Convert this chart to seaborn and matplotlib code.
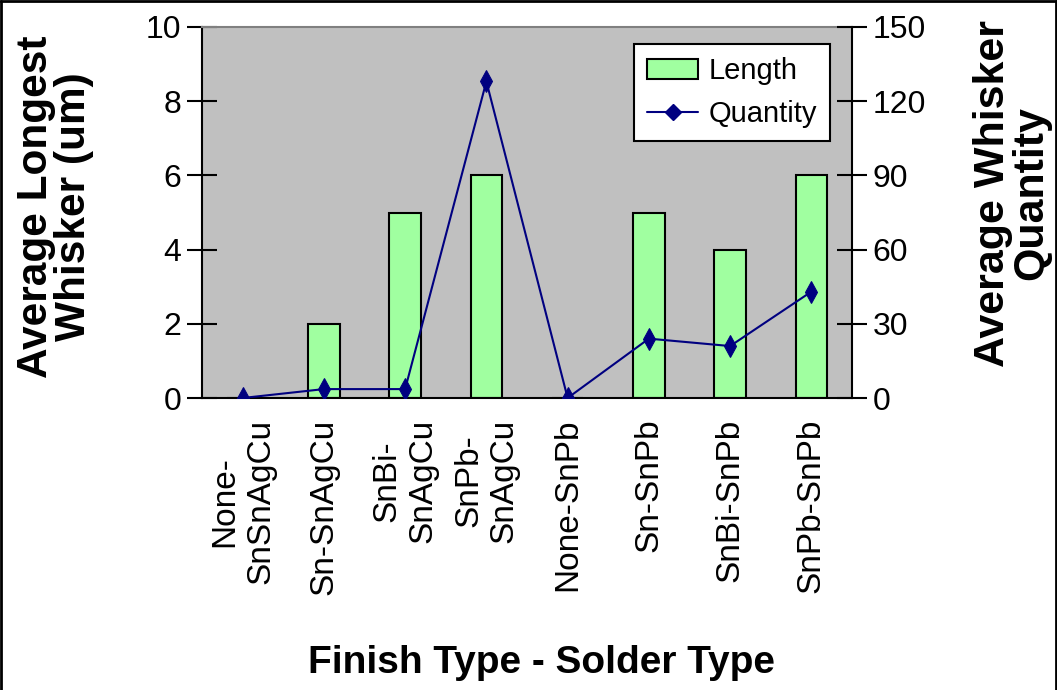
import numpy as np
import pandas as pd
import seaborn as sns
import matplotlib.pyplot as plt
from matplotlib.lines import Line2D

categories = ['None-SnSnAgCu', 'Sn-SnAgCu', 'SnBi-SnAgCu', 'SnPb-SnAgCu',
              'None-SnPb', 'Sn-SnPb', 'SnBi-SnPb', 'SnPb-SnPb']
tick_labels = ['None-\nSnSnAgCu', 'Sn-SnAgCu', 'SnBi-\nSnAgCu', 'SnPb-\nSnAgCu',
               'None-SnPb', 'Sn-SnPb', 'SnBi-SnPb', 'SnPb-SnPb']
length = [0, 2, 5, 6, 0, 5, 4, 6]
quantity = [0, 3.6, 3.6, 128, 0, 24, 21, 43]
left_ticks = [0, 2, 4, 6, 8, 10]
right_ticks = [0, 30, 60, 90, 120, 150]

sns.set_style('white')
plt.rcParams['font.family'] = ['Liberation Sans', 'DejaVu Sans']
plt.rcParams['text.color'] = 'black'
plt.rcParams['axes.labelcolor'] = 'black'
plt.rcParams['xtick.color'] = 'black'
plt.rcParams['ytick.color'] = 'black'

df = pd.DataFrame({'cat': categories, 'length': length, 'quantity': quantity})
df['pos'] = np.arange(len(df))

fig = plt.figure(figsize=(10.57, 6.9), dpi=100)
ax = fig.add_axes([202 / 1057, 1 - 398 / 690, 650 / 1057, 371 / 690])
ax.set_facecolor('#c0c0c0')

sns.barplot(data=df, x='cat', y='length', color='#a0ffa0', saturation=1,
            edgecolor='black', linewidth=1.5, width=0.39, ax=ax)
ax.set_xlim(-0.5, len(categories) - 0.5)
ax.set_ylim(0, 10)

ax2 = ax.twinx()
sns.lineplot(data=df, x='pos', y='quantity', ax=ax2, color='#000080',
             marker='d', markersize=11, markeredgecolor='#000080',
             linewidth=1.5, sort=False)
ax2.set_ylim(0, 150)
ax2.set_xlim(-0.5, len(categories) - 0.5)

# axes styling
ax.set_yticks(left_ticks)
ax.set_yticklabels([str(v) for v in left_ticks])
ax2.set_yticks(right_ticks)
ax2.set_yticklabels([str(v) for v in right_ticks])
ax.set_xticks(df['pos'])
ax.set_xticklabels(tick_labels, rotation=90, ha='center', va='top',
                   multialignment='center', linespacing=1.2)
ax.set_xticks(np.arange(-0.5, len(categories), 1), minor=True)
ax.tick_params(axis='x', which='major', length=0, pad=15, labelsize=24)
ax.tick_params(axis='x', which='minor', direction='inout', length=20,
               width=1.5, color='black')
ax.tick_params(axis='y', direction='inout', length=22, width=1.5,
               labelsize=23, pad=4, colors='black', left=True)
ax2.tick_params(axis='y', direction='inout', length=22, width=1.5,
                labelsize=23, pad=4, colors='black', right=True)
ax.set_xlabel('')
ax.set_ylabel('')
ax2.set_xlabel('')
ax2.set_ylabel('')

for s in ['left', 'bottom']:
    ax.spines[s].set_color('black')
    ax.spines[s].set_linewidth(1.5)
ax.spines['right'].set_visible(False)
ax.spines['top'].set_color('#808080')
ax.spines['top'].set_linewidth(1.5)
for s in ['left', 'bottom', 'top']:
    ax2.spines[s].set_visible(False)
ax2.spines['right'].set_color('black')
ax2.spines['right'].set_linewidth(1.5)

# legend
handles = [plt.Rectangle((0, 0), 1, 1, fc='#a0ffa0', ec='black', lw=1.5),
           Line2D([], [], color='#000080', marker='D', markersize=8, lw=1.5)]
leg = ax2.legend(handles, ['Length', 'Quantity'], loc='upper right',
                 bbox_to_anchor=(0.966, 0.954), borderaxespad=0, fontsize=21,
                 frameon=True, fancybox=False, handlelength=1.75,
                 handletextpad=0.35, labelspacing=0.5, borderpad=0.45)
leg.get_frame().set_edgecolor('black')
leg.get_frame().set_linewidth(1.5)
leg.get_frame().set_alpha(1)

# axis titles
fig.text(55 / 1057, 0.70, 'Average Longest\nWhisker (um)', rotation=90,
         ha='center', va='center', fontsize=30.5, fontweight='bold',
         multialignment='center', linespacing=0.95)
fig.text(1012 / 1057, 0.72, 'Average Whisker\nQuantity', rotation=90,
         ha='center', va='center', fontsize=31, fontweight='bold',
         multialignment='center', linespacing=0.95)
fig.text(541 / 1057, 1 - 663 / 690, 'Finish Type - Solder Type',
         ha='center', va='center', fontsize=28, fontweight='bold')

# outer frame
for xs, ys in [([0.001, 0.001], [0, 0.999]), ([0.999, 0.999], [0, 0.999]),
               ([0, 1], [0.998, 0.998])]:
    fig.add_artist(Line2D(xs, ys, transform=fig.transFigure, color='black', lw=2))

fig.savefig('out.png', dpi=100)
